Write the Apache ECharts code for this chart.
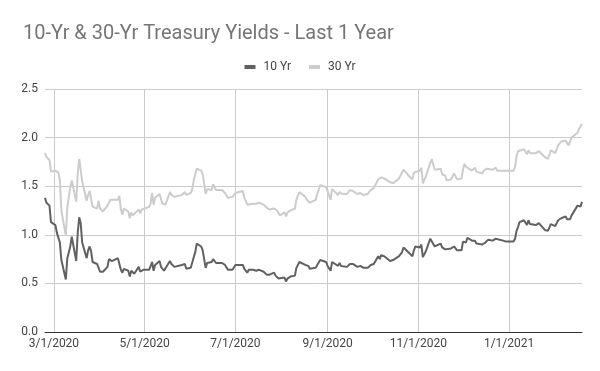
<!DOCTYPE html>
<html>
<head>
<meta charset="utf-8">
<script src="https://cdn.jsdelivr.net/npm/echarts@6/dist/echarts.min.js"></script>
<style>
html,body{margin:0;padding:0;background:#fff;}
#chart{width:600px;height:371px;}
</style>
</head>
<body>
<div id="chart"></div>
<script>
const titleText = '10-Yr & 30-Yr Treasury Yields - Last 1 Year';
const seriesNames = ['10 Yr', '30 Yr'];

const dates = [
'2020-02-24','2020-02-25','2020-02-26','2020-02-27','2020-02-28',
'2020-03-02','2020-03-03','2020-03-04','2020-03-05','2020-03-06','2020-03-09','2020-03-10','2020-03-11','2020-03-12','2020-03-13','2020-03-16','2020-03-17','2020-03-18','2020-03-19','2020-03-20','2020-03-23','2020-03-24','2020-03-25','2020-03-26','2020-03-27','2020-03-30','2020-03-31',
'2020-04-01','2020-04-02','2020-04-03','2020-04-06','2020-04-07','2020-04-08','2020-04-09','2020-04-13','2020-04-14','2020-04-15','2020-04-16','2020-04-17','2020-04-20','2020-04-21','2020-04-22','2020-04-23','2020-04-24','2020-04-27','2020-04-28','2020-04-29','2020-04-30',
'2020-05-01','2020-05-04','2020-05-05','2020-05-06','2020-05-07','2020-05-08','2020-05-11','2020-05-12','2020-05-13','2020-05-14','2020-05-15','2020-05-18','2020-05-19','2020-05-20','2020-05-21','2020-05-22','2020-05-26','2020-05-27','2020-05-28','2020-05-29',
'2020-06-01','2020-06-02','2020-06-03','2020-06-04','2020-06-05','2020-06-08','2020-06-09','2020-06-10','2020-06-11','2020-06-12','2020-06-15','2020-06-16','2020-06-17','2020-06-18','2020-06-19','2020-06-22','2020-06-23','2020-06-24','2020-06-25','2020-06-26','2020-06-29','2020-06-30',
'2020-07-01','2020-07-02','2020-07-06','2020-07-07','2020-07-08','2020-07-09','2020-07-10','2020-07-13','2020-07-14','2020-07-15','2020-07-16','2020-07-17','2020-07-20','2020-07-21','2020-07-22','2020-07-23','2020-07-24','2020-07-27','2020-07-28','2020-07-29','2020-07-30','2020-07-31',
'2020-08-03','2020-08-04','2020-08-05','2020-08-06','2020-08-07','2020-08-10','2020-08-11','2020-08-12','2020-08-13','2020-08-14','2020-08-17','2020-08-18','2020-08-19','2020-08-20','2020-08-21','2020-08-24','2020-08-25','2020-08-26','2020-08-27','2020-08-28','2020-08-31',
'2020-09-01','2020-09-02','2020-09-03','2020-09-04','2020-09-08','2020-09-09','2020-09-10','2020-09-11','2020-09-14','2020-09-15','2020-09-16','2020-09-17','2020-09-18','2020-09-21','2020-09-22','2020-09-23','2020-09-24','2020-09-25','2020-09-28','2020-09-29','2020-09-30',
'2020-10-01','2020-10-02','2020-10-05','2020-10-06','2020-10-07','2020-10-08','2020-10-09','2020-10-13','2020-10-14','2020-10-15','2020-10-16','2020-10-19','2020-10-20','2020-10-21','2020-10-22','2020-10-23','2020-10-26','2020-10-27','2020-10-28','2020-10-29','2020-10-30',
'2020-11-02','2020-11-03','2020-11-04','2020-11-05','2020-11-06','2020-11-09','2020-11-10','2020-11-12','2020-11-13','2020-11-16','2020-11-17','2020-11-18','2020-11-19','2020-11-20','2020-11-23','2020-11-24','2020-11-25','2020-11-27','2020-11-30',
'2020-12-01','2020-12-02','2020-12-03','2020-12-04','2020-12-07','2020-12-08','2020-12-09','2020-12-10','2020-12-11','2020-12-14','2020-12-15','2020-12-16','2020-12-17','2020-12-18','2020-12-21','2020-12-22','2020-12-23','2020-12-24','2020-12-28','2020-12-29','2020-12-30','2020-12-31',
'2021-01-04','2021-01-05','2021-01-06','2021-01-07','2021-01-08','2021-01-11','2021-01-12','2021-01-13','2021-01-14','2021-01-15','2021-01-19','2021-01-20','2021-01-21','2021-01-22','2021-01-25','2021-01-26','2021-01-27','2021-01-28','2021-01-29',
'2021-02-01','2021-02-02','2021-02-03','2021-02-04','2021-02-05','2021-02-08','2021-02-09','2021-02-10','2021-02-11','2021-02-12','2021-02-16','2021-02-17','2021-02-18','2021-02-19'
];

const tenYr = [
1.38,1.33,1.33,1.30,1.13,
1.10,1.02,1.02,0.92,0.74,0.54,0.76,0.82,0.88,0.98,0.73,1.02,1.18,1.12,0.92,0.76,0.84,0.88,0.83,0.72,0.70,0.70,
0.62,0.63,0.62,0.67,0.75,0.77,0.73,0.76,0.76,0.64,0.61,0.65,0.63,0.57,0.63,0.61,0.60,0.67,0.62,0.63,0.64,
0.64,0.64,0.66,0.72,0.63,0.69,0.73,0.67,0.66,0.63,0.64,0.73,0.70,0.68,0.67,0.66,0.69,0.68,0.70,0.65,
0.66,0.68,0.77,0.82,0.91,0.88,0.84,0.75,0.66,0.71,0.72,0.75,0.74,0.71,0.70,0.71,0.72,0.69,0.68,0.64,0.64,0.66,
0.69,0.68,0.69,0.65,0.67,0.61,0.64,0.64,0.62,0.63,0.62,0.64,0.62,0.61,0.59,0.59,0.59,0.61,0.58,0.58,0.55,0.55,
0.56,0.52,0.55,0.55,0.57,0.58,0.66,0.68,0.72,0.71,0.69,0.68,0.68,0.65,0.64,0.66,0.69,0.69,0.74,0.74,0.72,
0.68,0.67,0.63,0.72,0.68,0.71,0.68,0.67,0.67,0.68,0.70,0.68,0.70,0.67,0.67,0.68,0.67,0.66,0.66,0.65,0.69,
0.68,0.70,0.78,0.75,0.79,0.78,0.78,0.73,0.73,0.74,0.75,0.78,0.80,0.82,0.87,0.86,0.81,0.79,0.78,0.84,0.88,
0.87,0.90,0.77,0.78,0.83,0.96,0.98,0.88,0.90,0.91,0.87,0.86,0.85,0.83,0.86,0.88,0.88,0.84,0.84,
0.93,0.95,0.92,0.97,0.94,0.92,0.94,0.91,0.90,0.90,0.92,0.92,0.93,0.95,0.94,0.92,0.96,0.94,0.94,0.94,0.93,0.93,
0.93,0.96,1.04,1.08,1.13,1.15,1.15,1.10,1.15,1.11,1.10,1.10,1.12,1.11,1.05,1.05,1.04,1.07,1.11,
1.09,1.12,1.15,1.16,1.17,1.19,1.16,1.15,1.16,1.20,1.30,1.29,1.29,1.34
];

const thirtyYr = [
1.84,1.80,1.80,1.77,1.65,
1.66,1.64,1.64,1.56,1.25,0.99,1.28,1.30,1.49,1.56,1.34,1.63,1.78,1.79,1.55,1.35,1.41,1.45,1.43,1.29,1.27,1.35,
1.27,1.26,1.24,1.30,1.32,1.36,1.35,1.36,1.40,1.26,1.21,1.27,1.24,1.17,1.23,1.20,1.18,1.26,1.22,1.26,1.28,
1.27,1.29,1.32,1.43,1.31,1.38,1.42,1.37,1.32,1.31,1.31,1.44,1.41,1.39,1.39,1.37,1.41,1.43,1.44,1.41,
1.43,1.47,1.56,1.62,1.68,1.66,1.62,1.53,1.42,1.47,1.46,1.52,1.50,1.46,1.46,1.46,1.46,1.43,1.44,1.38,1.39,1.41,
1.43,1.43,1.45,1.38,1.38,1.31,1.33,1.32,1.31,1.32,1.31,1.33,1.31,1.31,1.28,1.27,1.26,1.27,1.25,1.25,1.23,1.20,
1.23,1.19,1.23,1.22,1.25,1.27,1.36,1.40,1.44,1.43,1.39,1.36,1.37,1.33,1.33,1.36,1.42,1.44,1.51,1.51,1.49,
1.45,1.43,1.36,1.47,1.41,1.44,1.42,1.42,1.42,1.43,1.46,1.44,1.45,1.42,1.42,1.43,1.42,1.41,1.42,1.42,1.46,
1.45,1.48,1.57,1.55,1.59,1.58,1.58,1.54,1.53,1.53,1.55,1.58,1.61,1.63,1.67,1.66,1.60,1.58,1.57,1.64,1.66,
1.66,1.69,1.53,1.54,1.60,1.74,1.78,1.67,1.68,1.68,1.62,1.62,1.61,1.56,1.57,1.60,1.63,1.57,1.58,
1.67,1.73,1.70,1.71,1.66,1.66,1.69,1.65,1.64,1.63,1.66,1.66,1.68,1.69,1.67,1.66,1.69,1.66,1.66,1.67,1.66,1.65,
1.66,1.70,1.81,1.86,1.87,1.88,1.88,1.83,1.87,1.84,1.84,1.84,1.86,1.85,1.80,1.79,1.78,1.82,1.87,
1.84,1.88,1.92,1.92,1.96,1.97,1.95,1.92,1.93,2.00,2.05,2.09,2.07,2.14
];

const xTickDates = ['2020-03-01','2020-05-01','2020-07-01','2020-09-01','2020-11-01','2021-01-01'];
const yTicks = [0, 0.5, 1.0, 1.5, 2.0, 2.5];

function toTime(s) {
  const p = s.split('-').map(Number);
  return new Date(p[0], p[1] - 1, p[2]).getTime();
}
function fmtDate(v) {
  const d = new Date(v);
  return (d.getMonth() + 1) + '/' + d.getDate() + '/' + d.getFullYear();
}

const chart = echarts.init(document.getElementById('chart'), null, {renderer: 'canvas'});
const font = 'Roboto';
const xTickTimes = xTickDates.map(toTime);
chart.setOption({
  animation: false,
  backgroundColor: '#fff',
  title: {
    text: titleText,
    left: 18, top: 19,
    textStyle: {fontFamily: font, fontSize: 20, fontWeight: 'normal', color: '#757575'}
  },
  legend: {
    top: 56, left: 'center',
    icon: 'rect', itemWidth: 11, itemHeight: 4, itemGap: 18,
    textStyle: {fontFamily: font, fontSize: 12, color: '#444', padding: [0, 0, 0, 3]},
    data: seriesNames
  },
  grid: {left: 45, right: 18, top: 89, bottom: 39, containLabel: false},
  xAxis: {
    type: 'value',
    min: toTime(dates[0]),
    max: toTime(dates[dates.length - 1]),
    axisLine: {show: true, onZero: false, lineStyle: {color: '#333', width: 1}},
    axisTick: {show: false, customValues: xTickTimes},
    axisLabel: {
      customValues: xTickTimes,
      formatter: fmtDate,
      fontFamily: font, fontSize: 12, color: '#444', margin: 6,
      showMinLabel: true, showMaxLabel: true
    },
    splitLine: {show: true, lineStyle: {color: '#cccccc', width: 1}}
  },
  yAxis: {
    type: 'value',
    min: yTicks[0], max: yTicks[yTicks.length - 1], interval: 0.5,
    axisLine: {show: false},
    axisTick: {show: false},
    axisLabel: {formatter: v => v.toFixed(1), fontFamily: font, fontSize: 12, color: '#444', margin: 7},
    splitLine: {show: true, lineStyle: {color: '#cccccc', width: 1}}
  },
  series: [
    {
      name: seriesNames[0], type: 'line', showSymbol: false,
      data: dates.map((d, i) => [toTime(d), tenYr[i]]),
      lineStyle: {width: 2, color: '#616161'}, itemStyle: {color: '#616161'}
    },
    {
      name: seriesNames[1], type: 'line', showSymbol: false,
      data: dates.map((d, i) => [toTime(d), thirtyYr[i]]),
      lineStyle: {width: 2, color: '#cccccc'}, itemStyle: {color: '#cccccc'}
    }
  ]
});
</script>
</body>
</html>
